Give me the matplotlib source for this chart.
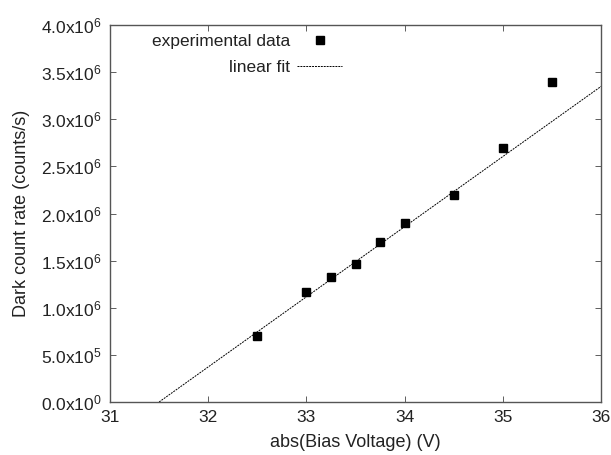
import numpy as np
import matplotlib
matplotlib.use('Agg')
import matplotlib.pyplot as plt
from matplotlib.ticker import FuncFormatter

plt.rcParams['font.family'] = ['Liberation Sans', 'DejaVu Sans']
plt.rcParams['mathtext.fontset'] = 'custom'
plt.rcParams['mathtext.rm'] = 'Liberation Sans'
plt.rcParams['font.size'] = 12.5

# datos medidos
bias_v = [32.5, 33.0, 33.25, 33.5, 33.75, 34.0, 34.5, 35.0, 35.5]
dark_rate = [0.70e6, 1.17e6, 1.33e6, 1.46e6, 1.70e6, 1.90e6, 2.20e6, 2.70e6, 3.40e6]

# ajuste lineal (extremos)
fit_v = [31.5, 36.0]
fit_rate = [0.0, 3.35e6]

xticks = [31, 32, 33, 34, 35, 36]
yticks = [0, 0.5e6, 1.0e6, 1.5e6, 2.0e6, 2.5e6, 3.0e6, 3.5e6, 4.0e6]


def sci_fmt(v, pos):
    if v == 0:
        return r'$\mathregular{0.0x10^{0}}$'
    e = int(np.floor(np.log10(abs(v))))
    m = v / 10**e
    return r'$\mathregular{%.1fx10^{%d}}$' % (m, e)


fig = plt.figure(figsize=(6.11, 4.55), dpi=100)
ax = fig.add_axes([0.180, 0.1165, 0.804, 0.8285])

ax.plot(bias_v, dark_rate, 's', color='black', markersize=5.8, label='experimental data')
ax.plot(fit_v, fit_rate, color='black', lw=0.7, linestyle=(0, (2, 1)), label='linear fit')

ax.set_xlim(31, 36)
ax.set_ylim(0, 4.0e6)
ax.set_xticks(xticks)
ax.set_yticks(yticks)
ax.yaxis.set_major_formatter(FuncFormatter(sci_fmt))
ax.tick_params(direction='in', top=True, right=True, length=4, width=0.6, colors='#444444',
               labelcolor='#222222', labelsize=12.5, pad=6)
for s in ax.spines.values():
    s.set_color('#555555')
    s.set_linewidth(1.0)

ax.set_xlabel('abs(Bias Voltage) (V)', fontsize=13, color='#222222', labelpad=6)
ax.set_ylabel('Dark count rate (counts/s)', fontsize=13, color='#222222', labelpad=8)

leg = ax.legend(loc='upper right', bbox_to_anchor=(0.4725, 0.976), markerfirst=False, frameon=False,
                fontsize=12.5, handlelength=2.6, handletextpad=0.4, labelspacing=0.6,
                borderpad=0, borderaxespad=0)
for t in leg.get_texts():
    t.set_color('#222222')
leg._legend_box.align = 'right'

fig.savefig('out.png', dpi=100)
